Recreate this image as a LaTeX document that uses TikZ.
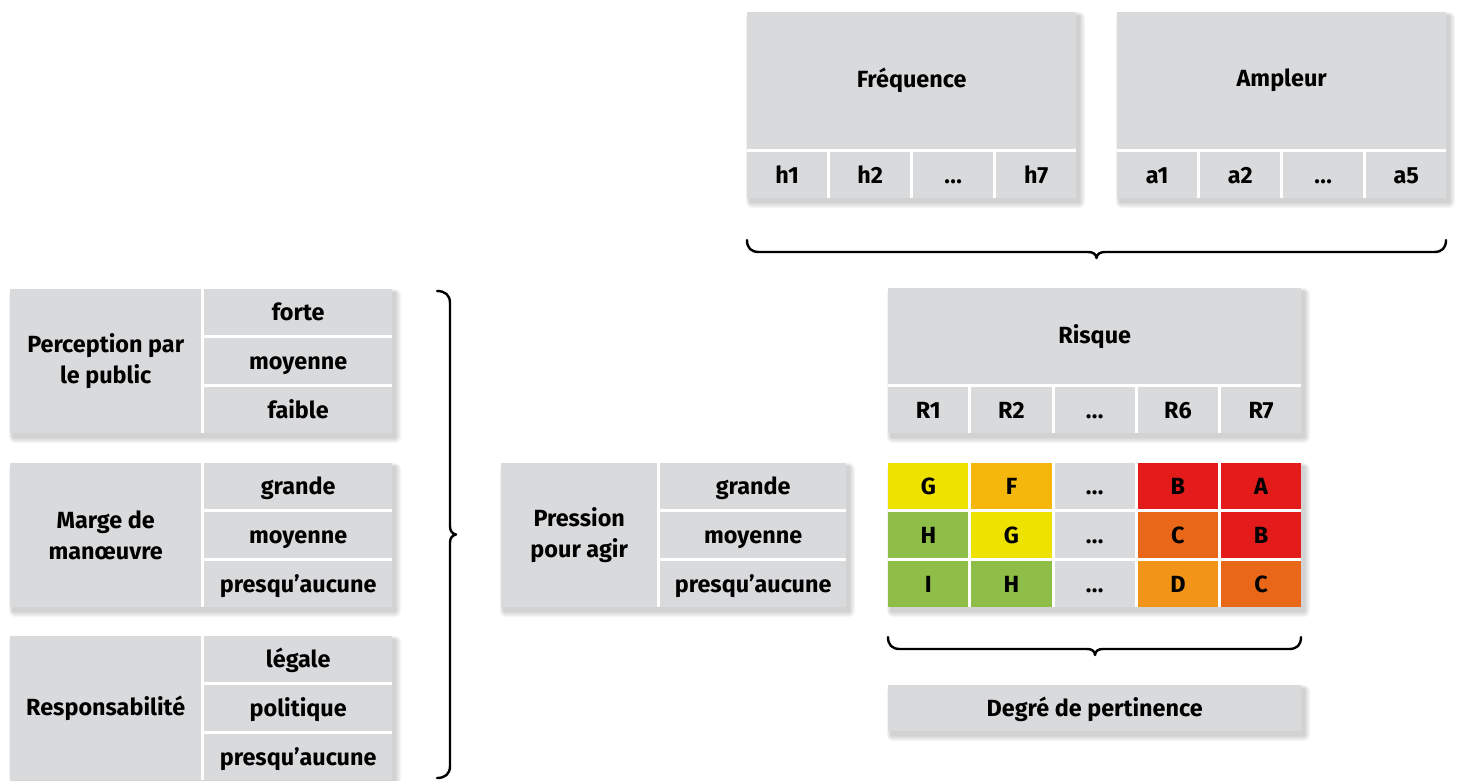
\documentclass[tikz,border=0pt]{standalone}
\usepackage{fontspec}
\setmainfont{Fira Sans}
\definecolor{cellgray}{HTML}{D9DADC}
\definecolor{cyellow}{HTML}{EEE200}
\definecolor{cgold}{HTML}{F5B70C}
\definecolor{cred}{HTML}{E31B1B}
\definecolor{corange}{HTML}{E96719}
\definecolor{clorange}{HTML}{F29418}
\definecolor{cgreen}{HTML}{8EBE48}
\newcommand\softshadow[4]{%
  \foreach \r in {1,...,7}{\fill[black,opacity=0.028,rounded corners=\r pt] (#1+3-\r*0.6,#2+4-\r*0.6) rectangle (#3+3+\r*0.9,#4+4+\r*0.9);}
  \fill[white] (#1,#2) rectangle (#3,#4);}
\newcommand\dotsx{.\kern0.3pt.\kern0.3pt.}
\tikzset{
  cell/.style={fill=cellgray, inner sep=0pt, anchor=north west, align=center, text=black,
    font=\bfseries\fontsize{23.4}{31}\selectfont},
  onel/.style={text height=19.5pt, text depth=2pt},
  colcell/.style={cell, onel, minimum width=80pt, minimum height=46pt},
  riskcell/.style={cell, onel, minimum width=80.2pt, minimum height=46pt},
  valcell/.style={cell, onel, minimum width=188pt, minimum height=46pt},
  pvalcell/.style={cell, onel, minimum width=186pt, minimum height=46pt},
  labcell/.style={cell, minimum width=191pt, minimum height=144pt},
  bracestyle/.style={draw=black, line width=2.4pt, line cap=round, line join=round}
}
\begin{document}
\begin{tikzpicture}[x=1pt,y=-1pt]
\useasboundingbox (0,0) rectangle (1459,781);

% ---------- Fréquence ----------
\softshadow{747}{12}{1076}{198}
\node[cell, minimum width=329pt, minimum height=137pt] (freq) at (747,12) {Fréquence};
\node[colcell] (h1) at (747,152) {h1};
\node[colcell] (h2) at (830,152) {h2};
\node[colcell] (hd) at (913,152) {\dotsx};
\node[colcell] (h7) at (996,152) {h7};

% ---------- Ampleur ----------
\softshadow{1117}{12}{1446}{198}
\node[cell, minimum width=329pt, minimum height=137pt] (ampl) at (1117,12) {Ampleur};
\node[colcell] (a1) at (1117,152) {a1};
\node[colcell] (a2) at (1200,152) {a2};
\node[colcell] (ad) at (1283,152) {\dotsx};
\node[colcell] (a5) at (1366,152) {a5};

% ---------- top brace ----------
\coordinate (tbL) at (747,240);
\coordinate (tbR) at (1446,240);
\draw[bracestyle] (tbL) .. controls (747,248) and (751,252) .. (759,252) -- (1088,252)
  .. controls (1093,252) and (1096,254) .. (1096.5,258)
  .. controls (1097,254) and (1100,252) .. (1105,252) -- (1434,252)
  .. controls (1442,252) and (1446,248) .. (tbR);

% ---------- Risque ----------
\softshadow{888}{288}{1301}{433}
\node[cell, minimum width=413pt, minimum height=96pt] (risque) at (888,288) {Risque};
\node[riskcell] (r1) at (888,387) {R1};
\node[riskcell] (r2) at (971.2,387) {R2};
\node[riskcell] (rd) at (1054.4,387) {\dotsx};
\node[riskcell] (r6) at (1137.6,387) {R6};
\node[riskcell] (r7) at (1220.8,387) {R7};

% ---------- matrix ----------
\softshadow{888}{463}{1301}{607}
\node[riskcell, fill=cyellow] (m11) at (888,463) {G};
\node[riskcell, fill=cgold] (m12) at (971.2,463) {F};
\node[riskcell] (m13) at (1054.4,463) {\dotsx};
\node[riskcell, fill=cred] (m14) at (1137.6,463) {B};
\node[riskcell, fill=cred] (m15) at (1220.8,463) {A};
\node[riskcell, fill=cgreen] (m21) at (888,512) {H};
\node[riskcell, fill=cyellow] (m22) at (971.2,512) {G};
\node[riskcell] (m23) at (1054.4,512) {\dotsx};
\node[riskcell, fill=corange] (m24) at (1137.6,512) {C};
\node[riskcell, fill=cred] (m25) at (1220.8,512) {B};
\node[riskcell, fill=cgreen] (m31) at (888,561) {I};
\node[riskcell, fill=cgreen] (m32) at (971.2,561) {H};
\node[riskcell] (m33) at (1054.4,561) {\dotsx};
\node[riskcell, fill=clorange] (m34) at (1137.6,561) {D};
\node[riskcell, fill=corange] (m35) at (1220.8,561) {C};

% ---------- bottom brace ----------
\coordinate (bbL) at (888,637);
\coordinate (bbR) at (1301,637);
\draw[bracestyle] (bbL) .. controls (888,645) and (892,649) .. (900,649) -- (1087,649)
  .. controls (1092,649) and (1094.5,651) .. (1095,655)
  .. controls (1095.5,651) and (1098,649) .. (1103,649) -- (1289,649)
  .. controls (1297,649) and (1301,645) .. (bbR);

% ---------- Degré de pertinence ----------
\softshadow{888}{685}{1301}{731}
\node[cell, onel, minimum width=413pt, minimum height=46pt] (degre) at (888,685) {Degré de pertinence};

% ---------- Pression pour agir ----------
\softshadow{501}{463}{846}{607}
\node[cell, minimum width=156pt, minimum height=144pt] (press) at (501,463) {Pression\\pour agir};
\node[pvalcell] (p1) at (660,463) {grande};
\node[pvalcell] (p2) at (660,512) {moyenne};
\node[pvalcell] (p3) at (660,561) {presqu’aucune};

% ---------- Perception par le public ----------
\softshadow{10}{289}{392}{433}
\node[labcell] (perc) at (10,289) {Perception par\\le public};
\node[valcell] (pe1) at (204,289) {forte};
\node[valcell] (pe2) at (204,338) {moyenne};
\node[valcell] (pe3) at (204,387) {faible};

% ---------- Marge de manœuvre ----------
\softshadow{10}{463}{392}{607}
\node[labcell] (marge) at (10,463) {Marge de\\manœuvre};
\node[valcell] (ma1) at (204,463) {grande};
\node[valcell] (ma2) at (204,512) {moyenne};
\node[valcell] (ma3) at (204,561) {presqu’aucune};

% ---------- Responsabilité ----------
\softshadow{10}{636}{392}{780}
\node[labcell] (resp) at (10,636) {Responsabilité};
\node[valcell] (re1) at (204,636) {légale};
\node[valcell] (re2) at (204,685) {politique};
\node[valcell] (re3) at (204,734) {presqu’aucune};

% ---------- left brace ----------
\coordinate (lbT) at (437,291);
\coordinate (lbB) at (437,778);
\draw[bracestyle] (lbT) .. controls (445,291) and (450,295) .. (450,303) -- (450,526)
  .. controls (450,531) and (452,533.5) .. (456,534.5)
  .. controls (452,535.5) and (450,538) .. (450,543) -- (450,766)
  .. controls (450,774) and (445,778) .. (lbB);
\end{tikzpicture}
\end{document}
